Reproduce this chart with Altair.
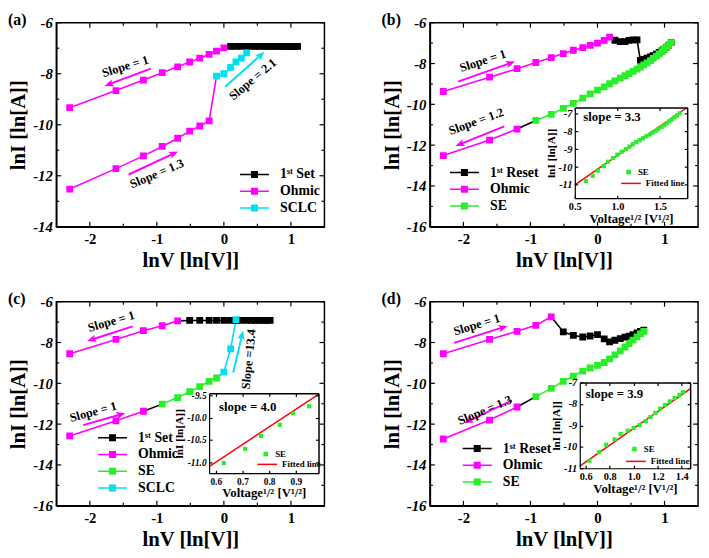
import math
import altair as alt
import pandas as pd

FONT = "Liberation Serif"
BLACK = "#000000"
MAGENTA = "#FF00FF"
CYAN = "#00E1EE"
GREEN = "#2AEE2A"
RED = "#FF0000"

W, H = 272, 207
X_DOMAIN = [-2.5, 1.5]
X_MAJOR = [-2, -1, 0, 1]
X_MINOR = [-1.5, -0.5, 0.5]

SET = "1ˢᵗ Set"
RESET = "1ˢᵗ Reset"
OHM = "Ohmic"
SE = "SE"
SCLC = "SCLC"

# ---------------- panel (a) ----------------
A_Y_DOMAIN = [-14, -6]
A_Y_MAJOR = [-14, -12, -10, -8, -6]
A_Y_MINOR = [-13, -11, -9, -7]
A_OHM_UP_X = [-2.30, -1.61, -1.20, -0.92, -0.69, -0.51, -0.36, -0.22, -0.11, 0.00]
A_OHM_UP_Y = [-9.33, -8.66, -8.25, -7.96, -7.73, -7.54, -7.39, -7.24, -7.11, -6.99]
A_OHM_LO_X = [-2.30, -1.61, -1.20, -0.92, -0.69, -0.51, -0.36, -0.22, -0.11]
A_OHM_LO_Y = [-12.52, -11.72, -11.22, -10.85, -10.53, -10.25, -10.05, -9.85, -8.09]
A_SCLC_X = [-0.11, 0.00, 0.10, 0.18, 0.26, 0.34]
A_SCLC_Y = [-8.09, -8.00, -7.75, -7.54, -7.39, -7.18]
A_SET_X = [0.00, 0.10, 0.18, 0.26, 0.34, 0.41, 0.47, 0.53, 0.59, 0.64, 0.69,
           0.74, 0.79, 0.83, 0.88, 0.92, 0.96, 0.99, 1.03, 1.06, 1.10]
A_SET_Y = [-6.99, -6.93, -6.93, -6.93, -6.93, -6.93, -6.93, -6.93, -6.93, -6.93, -6.93,
           -6.93, -6.93, -6.93, -6.93, -6.93, -6.93, -6.93, -6.93, -6.93, -6.93]
A_TXT = ["Slope = 1", "Slope = 1.3", "Slope = 2.1"]
A_TXT_X = [-1.47, -1.00, 0.43]
A_TXT_Y = [-7.71, -11.92, -8.22]
A_TXT_ANG = [343, 337, 320]
A_ARR_X1 = [-1.09, -1.42, 0.02]
A_ARR_Y1 = [-7.80, -11.95, -8.51]
A_ARR_X2 = [-1.71, -0.75, 0.55]
A_ARR_Y2 = [-8.41, -11.13, -7.27]
A_ARR_C = [MAGENTA, MAGENTA, CYAN]

# ---------------- panel (b) ----------------
B_Y_DOMAIN = [-16, -6]
Y_MAJOR16 = [-16, -14, -12, -10, -8, -6]
Y_MINOR16 = [-15, -13, -11, -9, -7]
B_OHM_UP_X = [-2.30, -1.61, -1.20, -0.92, -0.69, -0.51, -0.36, -0.22, -0.11, 0.00, 0.10, 0.18]
B_OHM_UP_Y = [-9.37, -8.67, -8.25, -7.95, -7.71, -7.51, -7.35, -7.22, -7.11, -7.00, -6.87, -6.71]
B_RESET_X = [0.18, 0.26, 0.34, 0.41, 0.47, 0.53, 0.59, 0.64, 0.69, 0.74, 0.79,
             0.83, 0.88, 0.92, 0.96, 0.99, 1.03, 1.06, 1.10]
B_RESET_Y = [-6.71, -6.86, -6.93, -6.93, -6.87, -6.84, -6.84, -7.85, -7.80, -7.74, -7.67,
             -7.61, -7.54, -7.46, -7.38, -7.30, -7.20, -7.10, -6.98]
B_SE_X = [1.10, 1.06, 1.03, 0.99, 0.96, 0.92, 0.88, 0.83, 0.79, 0.74, 0.69, 0.64, 0.59, 0.53,
          0.47, 0.41, 0.34, 0.26, 0.18, 0.10, 0.00, -0.11, -0.22, -0.36, -0.51, -0.69, -0.92]
B_SE_Y = [-6.98, -7.10, -7.20, -7.31, -7.42, -7.53, -7.64, -7.75, -7.86, -7.97, -8.07, -8.17, -8.27, -8.38,
          -8.49, -8.60, -8.72, -8.85, -8.99, -9.14, -9.30, -9.49, -9.70, -9.95, -10.20, -10.49, -10.79]
B_LINK_X = [-0.92, -1.20]
B_LINK_Y = [-10.79, -11.21]
B_OHM_LO_X = [-1.20, -1.61, -2.30]
B_OHM_LO_Y = [-11.21, -11.75, -12.51]
B_TXT = ["Slope = 1", "Slope = 1.2"]
B_TXT_X = [-1.71, -1.81]
B_TXT_Y = [-7.87, -10.84]
B_TXT_ANG = [342, 340]
B_ARR_X1 = [-2.08, -1.39]
B_ARR_Y1 = [-8.89, -11.08]
B_ARR_X2 = [-1.30, -2.05]
B_ARR_Y2 = [-7.98, -11.95]
B_ARR_C = [MAGENTA, MAGENTA]
# inset (b)
BI_X_DOMAIN = [0.5, 1.82]
BI_Y_DOMAIN = [-11.75, -6.65]
BI_X_TICKS = [0.5, 1.0, 1.5]
BI_Y_TICKS = [-11, -10, -9, -8, -7]
BI_X = [0.63, 0.71, 0.77, 0.84, 0.89, 0.95, 1.00, 1.05, 1.10, 1.14, 1.18, 1.22, 1.26, 1.30,
        1.34, 1.38, 1.41, 1.45, 1.48, 1.52, 1.55, 1.58, 1.61, 1.64, 1.67, 1.70, 1.73]
BI_Y = B_SE_Y[::-1]
BI_FIT_X = [0.50, 1.82]
BI_FIT_Y = [-11.00, -6.65]

# ---------------- panel (c) ----------------
C_OHM_UP_X = [-2.30, -1.61, -1.20, -0.92, -0.69]
C_OHM_UP_Y = [-8.55, -7.85, -7.42, -7.18, -6.94]
C_SET_X = [-0.69, -0.51, -0.36, -0.22, -0.11, 0.00, 0.10, 0.18, 0.26, 0.34, 0.41, 0.47, 0.53, 0.59, 0.64, 0.69]
C_SET_Y = [-6.94, -6.92, -6.92, -6.92, -6.92, -6.92, -6.92, -6.92, -6.92, -6.92, -6.92, -6.92, -6.92, -6.92, -6.92, -6.92]
C_OHM_LO_X = [-2.30, -1.61, -1.20]
C_OHM_LO_Y = [-12.58, -11.84, -11.37]
C_LINK_X = [-1.20, -0.92]
C_LINK_Y = [-11.37, -11.02]
C_SE_X = [-0.92, -0.69, -0.51, -0.36, -0.22, -0.11]
C_SE_Y = [-11.02, -10.70, -10.41, -10.16, -9.90, -9.74]
C_SCLC_X = [-0.11, 0.00, 0.10, 0.18]
C_SCLC_Y = [-9.74, -9.45, -8.31, -6.88]
C_TXT = ["Slope = 1", "Slope = 1", "Slope =13.4"]
C_TXT_X = [-1.68, -1.95, 0.37]
C_TXT_Y = [-6.97, -11.40, -8.82]
C_TXT_ANG = [344, 345, 276]
C_ARR_X1 = [-1.36, -2.10, 0.14]
C_ARR_Y1 = [-7.21, -12.05, -9.47]
C_ARR_X2 = [-1.97, -1.54, 0.27]
C_ARR_Y2 = [-7.85, -11.53, -7.65]
C_ARR_C = [MAGENTA, MAGENTA, CYAN]
# inset (c)
CI_X_DOMAIN = [0.575, 0.985]
CI_Y_DOMAIN = [-11.25, -9.45]
CI_X_TICKS = [0.6, 0.7, 0.8, 0.9]
CI_Y_TICKS = [-11.0, -10.5, -10.0, -9.5]
CI_X = [0.63, 0.71, 0.77, 0.84, 0.89, 0.95]
CI_Y = C_SE_Y
CI_FIT_X = [0.575, 0.985]
CI_FIT_Y = [-11.10, -9.47]

# ---------------- panel (d) ----------------
D_OHM_UP_X = [-2.30, -1.61, -1.20, -0.92, -0.69]
D_OHM_UP_Y = [-8.55, -7.85, -7.45, -7.16, -6.74]
D_RESET_X = [-0.69, -0.51, -0.36, -0.22, -0.11, 0.00, 0.10, 0.18, 0.26, 0.34, 0.41, 0.47, 0.53, 0.59, 0.64, 0.69]
D_RESET_Y = [-6.74, -7.48, -7.65, -7.73, -7.68, -7.61, -7.82, -7.97, -7.89, -7.81, -7.74, -7.69, -7.61, -7.53, -7.45, -7.40]
D_SE_X = [0.69, 0.64, 0.59, 0.53, 0.47, 0.41, 0.34, 0.26, 0.18, 0.10, 0.00, -0.11, -0.22, -0.36, -0.51, -0.69, -0.92]
D_SE_Y = [-7.45, -7.58, -7.72, -7.88, -8.05, -8.22, -8.41, -8.61, -8.80, -8.98, -9.12, -9.25, -9.40, -9.65, -9.90, -10.25, -10.65]
D_LINK_X = [-0.92, -1.20]
D_LINK_Y = [-10.65, -11.16]
D_OHM_LO_X = [-1.20, -1.61, -2.30]
D_OHM_LO_Y = [-11.16, -11.80, -12.73]
D_TXT = ["Slope = 1", "Slope = 1.3"]
D_TXT_X = [-1.80, -1.68]
D_TXT_Y = [-7.13, -11.32]
D_TXT_ANG = [343, 337]
D_ARR_X1 = [-2.14, -1.28]
D_ARR_Y1 = [-8.02, -10.84]
D_ARR_X2 = [-1.41, -1.92]
D_ARR_Y2 = [-7.26, -11.84]
D_ARR_C = [MAGENTA, MAGENTA]
# inset (d)
DI_X_DOMAIN = [0.55, 1.47]
DI_Y_DOMAIN = [-11, -7]
DI_X_TICKS = [0.6, 0.8, 1.0, 1.2, 1.4]
DI_Y_TICKS = [-11, -10, -9, -8, -7]
DI_X = [0.63, 0.71, 0.77, 0.84, 0.89, 0.95, 1.00, 1.05, 1.10, 1.14, 1.18, 1.22, 1.26, 1.30, 1.34, 1.38, 1.41]
DI_Y = D_SE_Y[::-1]
DI_FIT_X = [0.55, 1.47]
DI_FIT_Y = [-10.90, -7.30]

LEG_PATH = "M-2.1,0H2.1M-0.4,-0.4H0.4V0.4H-0.4Z"
ARROW_PATH = "M0,-1L0.75,0.85L0,0.45L-0.75,0.85Z"


def lab_expr(fmt):
    return ("datum.value < 0 ? '-' + format(-datum.value, '%s') : format(datum.value, '%s')"
            % (fmt, fmt))


def tick_axis(orient, offset, values, size, domain):
    return alt.Axis(orient=orient, offset=offset, values=values, labels=False, ticks=True,
                    tickSize=size, tickWidth=1.2, tickColor=BLACK, domain=domain,
                    domainWidth=1.5, domainColor=BLACK, grid=False, title=None, zindex=1)


def carrier(df, sx, sy, xa, ya):
    return alt.Chart(df).mark_point(opacity=0).encode(
        x=alt.X("x:Q", scale=sx, axis=xa), y=alt.Y("y:Q", scale=sy, axis=ya))


def head_angle(x1, y1, x2, y2, ydom):
    kx = W / (X_DOMAIN[1] - X_DOMAIN[0])
    ky = H / (ydom[1] - ydom[0])
    dx = (x2 - x1) * kx
    dy = -(y2 - y1) * ky
    return math.degrees(math.atan2(dx, -dy)) % 360


def tick_marks(sx, sy, ydom, ymaj, ymin):
    """Inward ticks on all four sides of the main frame, drawn as tick marks."""
    out = []
    for vals, size in ((X_MAJOR, 5), (X_MINOR, 3)):
        for yv, off in ((ydom[0], -size / 2), (ydom[1], size / 2)):
            df = pd.DataFrame({"x": vals, "y": [yv] * len(vals)})
            out.append(alt.Chart(df).mark_tick(orient="vertical", size=size, thickness=1.2,
                                               color=BLACK, opacity=1, yOffset=off).encode(
                x=alt.X("x:Q", scale=sx, axis=None), y=alt.Y("y:Q", scale=sy, axis=None)))
    for vals, size in ((ymaj, 5), (ymin, 3)):
        for xv, off in ((X_DOMAIN[0], size / 2), (X_DOMAIN[1], -size / 2)):
            df = pd.DataFrame({"x": [xv] * len(vals), "y": vals})
            out.append(alt.Chart(df).mark_tick(orient="horizontal", size=size, thickness=1.2,
                                               color=BLACK, opacity=1, xOffset=off).encode(
                x=alt.X("x:Q", scale=sx, axis=None), y=alt.Y("y:Q", scale=sy, axis=None)))
    return out


def main_layer(ydom, ymaj, ymin, lines, markers, names, colors, leg_xy, txt, arr):
    sx = alt.Scale(domain=X_DOMAIN, nice=False, zero=False)
    sy = alt.Scale(domain=ydom, nice=False, zero=False)
    corner = pd.DataFrame({"x": X_DOMAIN, "y": ydom})
    xa1 = alt.Axis(orient="bottom", values=X_MAJOR, ticks=False, domain=True, domainWidth=1.5,
                   domainColor=BLACK, labelExpr=lab_expr("d"), labelFont=FONT, labelFontSize=15,
                   labelFontWeight="bold", labelColor=BLACK, labelPadding=5, labelFlush=False,
                   title="lnV [ln[V]]", titleFont=FONT, titleFontSize=21, titleFontWeight="bold",
                   titleColor=BLACK, titlePadding=3, grid=False, zindex=1)
    ya1 = alt.Axis(orient="left", values=ymaj, ticks=False, domain=True, domainWidth=1.5,
                   domainColor=BLACK, labelExpr=lab_expr("d"), labelFont=FONT, labelFontSize=15,
                   labelFontWeight="bold", labelFontStyle="italic", labelColor=BLACK,
                   labelPadding=4, labelFlush=False,
                   title="lnI [ln[A]]", titleFont=FONT, titleFontSize=21, titleFontWeight="bold",
                   titleColor=BLACK, titlePadding=4, grid=False, zindex=1)
    layers = [carrier(corner, sx, sy, xa1, ya1)]
    frame = pd.DataFrame({"x": [X_DOMAIN[0]], "x2": [X_DOMAIN[1]], "y": [ydom[0]], "y2": [ydom[1]]})
    layers.append(alt.Chart(frame).mark_rect(fillOpacity=0, stroke=BLACK, strokeWidth=1.5).encode(
        x=alt.X("x:Q", scale=sx, axis=None), x2="x2:Q",
        y=alt.Y("y:Q", scale=sy, axis=None), y2="y2:Q"))
    layers += tick_marks(sx, sy, ydom, ymaj, ymin)

    rows = []
    for k, (ser, xs, ys) in enumerate(lines):
        for i, (x, y) in enumerate(zip(xs, ys)):
            rows.append({"series": ser, "seg": k, "ord": i, "x": x, "y": y})
    layers.append(alt.Chart(pd.DataFrame(rows)).mark_line(strokeWidth=1.6).encode(
        x=alt.X("x:Q", scale=sx, axis=None), y=alt.Y("y:Q", scale=sy, axis=None),
        color=alt.Color("series:N", scale=alt.Scale(domain=names, range=colors), legend=None),
        detail="seg:N", order="ord:Q"))

    x1, y1, x2, y2, cols = arr
    adf = pd.DataFrame({"x": x1, "y": y1, "xe": x2, "ye": y2, "c": cols,
                        "ang": [head_angle(a, b, c, d, ydom) for a, b, c, d in zip(x1, y1, x2, y2)]})
    layers.append(alt.Chart(adf).mark_rule(strokeWidth=2).encode(
        x=alt.X("x:Q", scale=sx, axis=None), y=alt.Y("y:Q", scale=sy, axis=None),
        x2="xe:Q", y2="ye:Q", color=alt.Color("c:N", scale=None)))
    layers.append(alt.Chart(adf).mark_point(shape=ARROW_PATH, filled=True, size=100, opacity=1).encode(
        x=alt.X("xe:Q", scale=sx, axis=None), y=alt.Y("ye:Q", scale=sy, axis=None),
        fill=alt.Fill("c:N", scale=None), angle=alt.Angle("ang:Q", scale=None)))

    prow = []
    for ser, xs, ys in markers:
        for x, y in zip(xs, ys):
            prow.append({"series": ser, "x": x, "y": y})
    leg = dict(orient="none", legendX=leg_xy[0], legendY=leg_xy[1], title=None,
               symbolType=LEG_PATH, symbolSize=196, symbolStrokeWidth=1.5, symbolOffset=7,
               labelOffset=18, labelFont=FONT, labelFontSize=14, labelFontWeight="bold",
               labelColor=BLACK, padding=0, rowPadding=2)
    layers.append(alt.Chart(pd.DataFrame(prow)).mark_point(
        shape="square", filled=True, size=24, opacity=1).encode(
        x=alt.X("x:Q", scale=sx, axis=None), y=alt.Y("y:Q", scale=sy, axis=None),
        fill=alt.Fill("series:N", scale=alt.Scale(domain=names, range=colors), legend=alt.Legend(**leg)),
        stroke=alt.Stroke("series:N", scale=alt.Scale(domain=names, range=colors), legend=alt.Legend(**leg))))

    t, tx, ty, ta = txt
    tdf = pd.DataFrame({"t": t, "x": tx, "y": ty, "ang": ta})
    layers.append(alt.Chart(tdf).mark_text(font=FONT, fontSize=12.5, fontWeight="bold", color=BLACK,
                                           align="center", baseline="middle").encode(
        x=alt.X("x:Q", scale=sx, axis=None), y=alt.Y("y:Q", scale=sy, axis=None),
        text="t:N", angle=alt.Angle("ang:Q", scale=None)))
    return alt.layer(*layers).resolve_axis(x="independent", y="independent").resolve_scale(
        color="independent", fill="independent", stroke="independent")


def inset_layer(box, xdom, ydom, xt, yt, xfmt, yfmt, px, py, fx, fy, slope, sxy, se_leg, fit_leg, lfs):
    L, R, T, B = box
    sx = alt.Scale(domain=xdom, range=[L, R], nice=False, zero=False)
    sy = alt.Scale(domain=ydom, range=[B, T], nice=False, zero=False)
    corner = pd.DataFrame({"x": xdom, "y": ydom})
    xa1 = alt.Axis(orient="bottom", offset=B - H, values=xt, ticks=False, domain=True, domainWidth=1.2,
                   domainColor=BLACK, labelExpr=lab_expr(xfmt), labelFont=FONT, labelFontSize=lfs,
                   labelFontWeight="bold", labelColor=BLACK, labelPadding=3, labelFlush=False,
                   title="Voltage¹/² [V¹/²]", titleFont=FONT, titleFontSize=13, titleFontWeight="bold",
                   titleColor=BLACK, titlePadding=1, grid=False, zindex=1)
    ya1 = alt.Axis(orient="left", offset=-L, values=yt, ticks=False, domain=True, domainWidth=1.2,
                   domainColor=BLACK, labelExpr=lab_expr(yfmt), labelFont=FONT, labelFontSize=lfs,
                   labelFontWeight="bold", labelFontStyle="italic", labelColor=BLACK, labelPadding=3,
                   labelFlush=False, title="lnI [ln[A]]", titleFont=FONT, titleFontSize=11.5,
                   titleFontWeight="bold", titleColor=BLACK, titlePadding=2, grid=False, zindex=1)
    layers = [
        carrier(corner, sx, sy, xa1, ya1),
        carrier(corner, sx, sy, tick_axis("top", -B, xt, 3, False),
                tick_axis("right", L - W, yt, 3, False)),
        carrier(corner, sx, sy, tick_axis("bottom", T - H, xt, 3, True),
                tick_axis("left", -R, yt, 3, True)),
    ]
    layers.append(alt.Chart(pd.DataFrame({"x": fx, "y": fy, "s": ["Fitted line"] * len(fx)})).mark_line(
        strokeWidth=1.5).encode(
        x=alt.X("x:Q", scale=sx, axis=None), y=alt.Y("y:Q", scale=sy, axis=None),
        stroke=alt.Stroke("s:N", scale=alt.Scale(domain=["Fitted line"], range=[RED]),
                          legend=alt.Legend(orient="none", legendX=fit_leg[0], legendY=fit_leg[1],
                                            title=None, symbolType="stroke", symbolSize=400,
                                            symbolStrokeWidth=1.5, labelOffset=4, labelFont=FONT,
                                            labelFontSize=9, labelFontWeight="bold", labelColor=BLACK,
                                            padding=0))))
    layers.append(alt.Chart(pd.DataFrame({"x": px, "y": py, "s": [SE] * len(px)})).mark_point(
        shape="square", filled=True, size=18, opacity=1).encode(
        x=alt.X("x:Q", scale=sx, axis=None), y=alt.Y("y:Q", scale=sy, axis=None),
        fill=alt.Fill("s:N", scale=alt.Scale(domain=[SE], range=[GREEN]),
                      legend=alt.Legend(orient="none", legendX=se_leg[0], legendY=se_leg[1],
                                        title=None, symbolType="square", symbolSize=22,
                                        labelOffset=5, labelFont=FONT, labelFontSize=9,
                                        labelFontWeight="bold", labelColor=BLACK, padding=0))))
    layers.append(alt.Chart(pd.DataFrame({"t": [slope], "x": [sxy[0]], "y": [sxy[1]]})).mark_text(
        font=FONT, fontSize=13, fontWeight="bold", color=BLACK, align="left", baseline="middle").encode(
        x=alt.X("x:Q", scale=sx, axis=None), y=alt.Y("y:Q", scale=sy, axis=None), text="t:N"))
    return alt.layer(*layers).resolve_axis(x="independent", y="independent")


def title(txt):
    return alt.TitleParams(text=txt, anchor="start", frame="group", dx=-49, dy=12, offset=0,
                           fontSize=16, font=FONT, fontWeight="bold", color=BLACK)


RES = dict(x="independent", y="independent", color="independent", fill="independent", stroke="independent")

pa = main_layer(
    A_Y_DOMAIN, A_Y_MAJOR, A_Y_MINOR,
    [(OHM, A_OHM_UP_X, A_OHM_UP_Y), (OHM, A_OHM_LO_X, A_OHM_LO_Y),
     (SCLC, A_SCLC_X, A_SCLC_Y), (SET, A_SET_X, A_SET_Y)],
    [(SET, A_SET_X[1:], A_SET_Y[1:]), (OHM, A_OHM_UP_X, A_OHM_UP_Y),
     (OHM, A_OHM_LO_X[:-1], A_OHM_LO_Y[:-1]), (SCLC, A_SCLC_X, A_SCLC_Y)],
    [SET, OHM, SCLC], [BLACK, MAGENTA, CYAN], (186, 146),
    (A_TXT, A_TXT_X, A_TXT_Y, A_TXT_ANG),
    (A_ARR_X1, A_ARR_Y1, A_ARR_X2, A_ARR_Y2, A_ARR_C),
).properties(width=W, height=H, title=title("(a)"))

pb_main = main_layer(
    B_Y_DOMAIN, Y_MAJOR16, Y_MINOR16,
    [(OHM, B_OHM_UP_X, B_OHM_UP_Y), (RESET, B_RESET_X, B_RESET_Y), (SE, B_SE_X, B_SE_Y),
     (RESET, B_LINK_X, B_LINK_Y), (OHM, B_OHM_LO_X, B_OHM_LO_Y)],
    [(RESET, B_RESET_X[1:], B_RESET_Y[1:]), (OHM, B_OHM_UP_X, B_OHM_UP_Y),
     (OHM, B_OHM_LO_X, B_OHM_LO_Y), (SE, B_SE_X, B_SE_Y)],
    [RESET, OHM, SE], [BLACK, MAGENTA, GREEN], (20, 144),
    (B_TXT, B_TXT_X, B_TXT_Y, B_TXT_ANG),
    (B_ARR_X1, B_ARR_Y1, B_ARR_X2, B_ARR_Y2, B_ARR_C),
)
pb_inset = inset_layer((147, 261, 86, 178), BI_X_DOMAIN, BI_Y_DOMAIN, BI_X_TICKS, BI_Y_TICKS, ".1f", "d",
                       BI_X, BI_Y, BI_FIT_X, BI_FIT_Y, "slope = 3.3", (0.6, -7.2),
                       (197, 147), (193, 152), 10.5)
pb = alt.layer(pb_main, pb_inset).resolve_scale(**RES).properties(width=W, height=H, title=title("(b)"))

pc_main = main_layer(
    B_Y_DOMAIN, Y_MAJOR16, Y_MINOR16,
    [(OHM, C_OHM_UP_X, C_OHM_UP_Y), (SET, C_SET_X, C_SET_Y), (OHM, C_OHM_LO_X, C_OHM_LO_Y),
     (SET, C_LINK_X, C_LINK_Y), (SE, C_SE_X, C_SE_Y), (SCLC, C_SCLC_X, C_SCLC_Y)],
    [(SET, C_SET_X[1:], C_SET_Y[1:]), (OHM, C_OHM_UP_X, C_OHM_UP_Y),
     (OHM, C_OHM_LO_X, C_OHM_LO_Y), (SE, C_SE_X, C_SE_Y), (SCLC, C_SCLC_X[1:], C_SCLC_Y[1:])],
    [SET, OHM, SE, SCLC], [BLACK, MAGENTA, GREEN, CYAN], (42, 130),
    (C_TXT, C_TXT_X, C_TXT_Y, C_TXT_ANG),
    (C_ARR_X1, C_ARR_Y1, C_ARR_X2, C_ARR_Y2, C_ARR_C),
)
pc_inset = inset_layer((155, 266, 93, 174), CI_X_DOMAIN, CI_Y_DOMAIN, CI_X_TICKS, CI_Y_TICKS, ".1f", ".1f",
                       CI_X, CI_Y, CI_FIT_X, CI_FIT_Y, "slope = 4.0", (0.612, -9.76),
                       (208, 150), (203, 154), 9.5)
pc = alt.layer(pc_main, pc_inset).resolve_scale(**RES).properties(width=W, height=H, title=title("(c)"))

pd_main = main_layer(
    B_Y_DOMAIN, Y_MAJOR16, Y_MINOR16,
    [(OHM, D_OHM_UP_X, D_OHM_UP_Y), (RESET, D_RESET_X, D_RESET_Y), (SE, D_SE_X, D_SE_Y),
     (RESET, D_LINK_X, D_LINK_Y), (OHM, D_OHM_LO_X, D_OHM_LO_Y)],
    [(RESET, D_RESET_X[1:], D_RESET_Y[1:]), (OHM, D_OHM_UP_X, D_OHM_UP_Y),
     (OHM, D_OHM_LO_X, D_OHM_LO_Y), (SE, D_SE_X, D_SE_Y)],
    [RESET, OHM, SE], [BLACK, MAGENTA, GREEN], (33, 141),
    (D_TXT, D_TXT_X, D_TXT_Y, D_TXT_ANG),
    (D_ARR_X1, D_ARR_Y1, D_ARR_X2, D_ARR_Y2, D_ARR_C),
)
pd_inset = inset_layer((152, 264, 82, 169), DI_X_DOMAIN, DI_Y_DOMAIN, DI_X_TICKS, DI_Y_TICKS, ".1f", "d",
                       DI_X, DI_Y, DI_FIT_X, DI_FIT_Y, "slope = 3.9", (0.6, -7.55),
                       (203, 145), (198, 151), 10.5)
pdd = alt.layer(pd_main, pd_inset).resolve_scale(**RES).properties(width=W, height=H, title=title("(d)"))

CRES = dict(color="independent", fill="independent", stroke="independent")
chart = alt.concat(pa, pb, pc, pdd, columns=2, spacing={"row": 76, "column": 107},
                   bounds="flush").resolve_scale(**CRES).properties(
    padding={"left": 0, "top": 0, "right": 0, "bottom": 0}
).configure_view(strokeWidth=0)

chart.save("out.html", embed_options={"renderer": "svg", "actions": False})
